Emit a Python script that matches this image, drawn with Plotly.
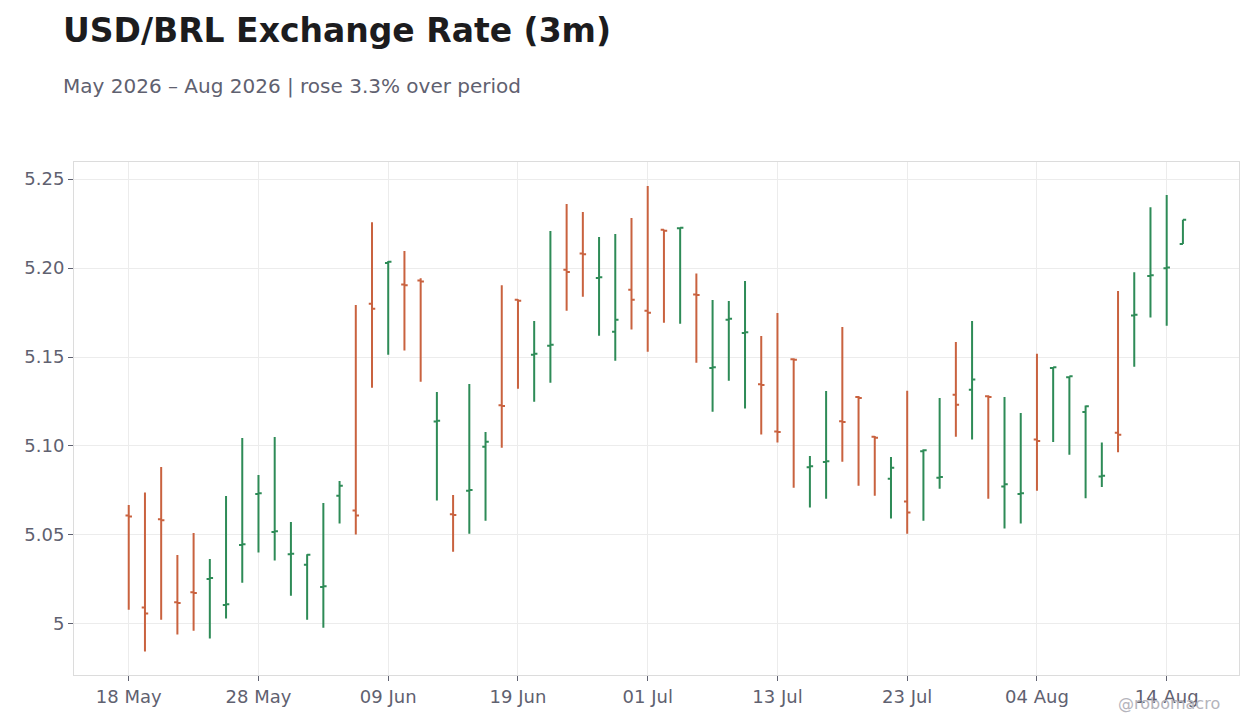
import plotly.graph_objects as go
import pandas as pd

# business days 18 May - 17 Aug 2026
dates = pd.bdate_range("2026-05-18", "2026-08-17")

opens = [5.0609, 5.0092, 5.0588, 5.0122, 5.0178, 5.0253, 5.0107, 5.0444, 5.0730, 5.0517,
         5.0391, 5.0333, 5.0208, 5.0721, 5.0637, 5.1800, 5.2029, 5.1908, 5.1930, 5.1138,
         5.0616, 5.0749, 5.0996, 5.1229, 5.1822, 5.1513, 5.1564, 5.1991, 5.2082, 5.1944,
         5.1642, 5.1878, 5.1760, 5.2215, 5.2223, 5.1852, 5.1438, 5.1710, 5.1635, 5.1347,
         5.1082, 5.1488, 5.0880, 5.0910, 5.1139, 5.1275, 5.1052, 5.0816, 5.0688, 5.0970,
         5.0822, 5.1288, 5.1316, 5.1280, 5.0772, 5.0730, 5.1036, 5.1438, 5.1386, 5.1191,
         5.0829, 5.1075, 5.1734, 5.1955, 5.1999, 5.2135]
highs = [5.0669, 5.0738, 5.0882, 5.0388, 5.0511, 5.0365, 5.0719, 5.1045, 5.0837, 5.1051,
         5.0573, 5.0391, 5.0680, 5.0803, 5.1792, 5.2258, 5.2039, 5.2096, 5.1942, 5.1303,
         5.0725, 5.1348, 5.1079, 5.1904, 5.1824, 5.1702, 5.2208, 5.2360, 5.2315, 5.2174,
         5.2191, 5.2281, 5.2461, 5.2217, 5.2228, 5.1970, 5.1820, 5.1815, 5.1927, 5.1618,
         5.1747, 5.1493, 5.0944, 5.1309, 5.1669, 5.1281, 5.1056, 5.0938, 5.1311, 5.0981,
         5.1270, 5.1584, 5.1702, 5.1285, 5.1275, 5.1185, 5.1519, 5.1444, 5.1392, 5.1227,
         5.1019, 5.1871, 5.1977, 5.2342, 5.2410, 5.2272]
lows = [5.0079, 4.9845, 5.0024, 4.9940, 4.9961, 4.9918, 5.0030, 5.0232, 5.0401, 5.0356,
        5.0159, 5.0024, 4.9979, 5.0564, 5.0502, 5.1328, 5.1513, 5.1536, 5.1361, 5.0693,
        5.0406, 5.0507, 5.0580, 5.0990, 5.1322, 5.1249, 5.1356, 5.1760, 5.1839, 5.1620,
        5.1479, 5.1654, 5.1530, 5.1693, 5.1687, 5.1468, 5.1193, 5.1367, 5.1210, 5.1064,
        5.1019, 5.0766, 5.0654, 5.0704, 5.0912, 5.0777, 5.0721, 5.0592, 5.0507, 5.0580,
        5.0760, 5.1052, 5.1037, 5.0704, 5.0536, 5.0564, 5.0749, 5.1023, 5.0951, 5.0706,
        5.0769, 5.0965, 5.1446, 5.1722, 5.1676, 5.2135]
closes = [5.0604, 5.0058, 5.0583, 5.0118, 5.0174, 5.0258, 5.0111, 5.0448, 5.0734, 5.0521,
          5.0395, 5.0389, 5.0212, 5.0777, 5.0609, 5.1771, 5.2036, 5.1904, 5.1925, 5.1142,
          5.0612, 5.0753, 5.1024, 5.1225, 5.1816, 5.1519, 5.1569, 5.1978, 5.2078, 5.1948,
          5.1710, 5.1822, 5.1749, 5.2210, 5.2226, 5.1848, 5.1442, 5.1715, 5.1639, 5.1343,
          5.1078, 5.1484, 5.0886, 5.0914, 5.1135, 5.1270, 5.1047, 5.0878, 5.0626, 5.0976,
          5.0826, 5.1232, 5.1373, 5.1275, 5.0785, 5.0734, 5.1028, 5.1442, 5.1392, 5.1223,
          5.0833, 5.1063, 5.1738, 5.1959, 5.2003, 5.2272]

x_ticks = ["2026-05-18", "2026-05-28", "2026-06-09", "2026-06-19", "2026-07-01",
           "2026-07-13", "2026-07-23", "2026-08-04", "2026-08-14"]
y_ticks = [5.0, 5.05, 5.10, 5.15, 5.20, 5.25]
y_labels = ["5", "5.05", "5.10", "5.15", "5.20", "5.25"]

title = "USD/BRL Exchange Rate (3m)"
subtitle = "May 2026 – Aug 2026 | rose 3.3% over period"

fig = go.Figure(go.Ohlc(
    x=dates, open=opens, high=highs, low=lows, close=closes,
    increasing=dict(line=dict(color="#2e8b57", width=2)),
    decreasing=dict(line=dict(color="#c9623f", width=2)),
    tickwidth=0.2,
    showlegend=False,
))

fig.update_layout(
    width=1244, height=712,
    margin=dict(l=66, r=13, t=154, b=45),
    paper_bgcolor="white", plot_bgcolor="white",
    font=dict(family="DejaVu Sans", color="#5f6170", size=18),
    xaxis=dict(
        rangeslider=dict(visible=False),
        rangebreaks=[dict(bounds=["sat", "mon"])],
        range=["2026-05-12 15:00", "2026-08-20 11:00"],
        tickvals=x_ticks, tickformat="%d %b",
        showgrid=True, gridcolor="#ececec",
        showline=True, linecolor="#dcdcdc", mirror=True,
        ticks="outside", tickcolor="#5f6170", ticklen=5,
    ),
    yaxis=dict(
        range=[4.9713, 5.2596],
        tickvals=y_ticks, ticktext=y_labels,
        showgrid=True, gridcolor="#ececec",
        showline=True, linecolor="#dcdcdc", mirror=True,
        ticks="outside", tickcolor="#5f6170", ticklen=5,
        zeroline=False,
    ),
)

fig.add_annotation(
    text="<b>" + title + "</b>", xref="paper", yref="paper", x=-0.0111, y=1.2573,
    xanchor="left", yanchor="middle", showarrow=False,
    font=dict(size=33, color="#1c1c1e"),
)
fig.add_annotation(
    text=subtitle, xref="paper", yref="paper", x=-0.0111, y=1.148,
    xanchor="left", yanchor="middle", showarrow=False,
    font=dict(size=20, color="#5f6170"),
)
fig.add_annotation(
    text="@robomacro", xref="paper", yref="paper", x=0.9854, y=-0.0565,
    xanchor="right", yanchor="middle", showarrow=False,
    font=dict(size=16, color="#b4b4bc"),
)

fig.write_html("out.html")
